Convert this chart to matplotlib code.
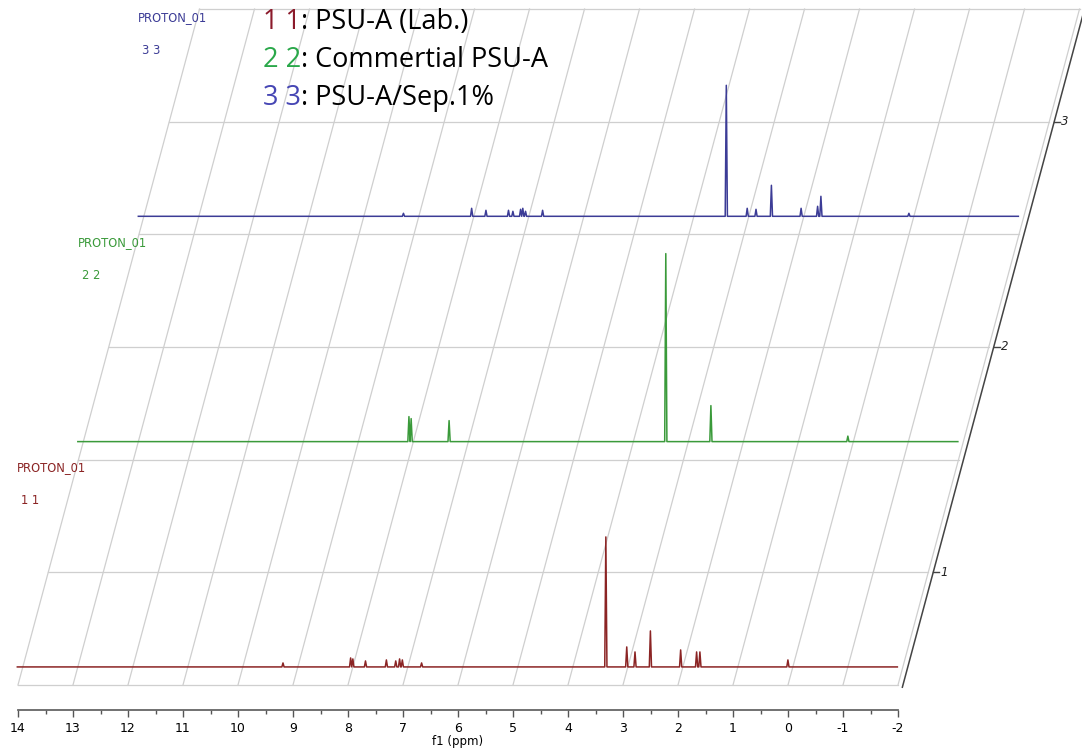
import matplotlib.pyplot as plt
from matplotlib.transforms import Affine2D

plt.rcParams["axes.unicode_minus"] = False

# peak lists (ppm, height in px of the original)
red_ppm = [9.27, 8.04, 8.00, 7.77, 7.39, 7.22, 7.15, 7.10, 6.75,
           3.40, 3.02, 2.87, 2.59, 2.04, 1.75, 1.69, 0.09]
red_h = [4, 9, 8, 6, 7, 6, 8, 7, 4,
         130, 20, 15, 36, 17, 15, 15, 7]

green_ppm = [8.08, 8.04, 7.35, 3.41, 2.59, 0.10]
green_h = [25, 23, 21, 188, 36, 5.5]

blue_ppm = [9.28, 8.04, 7.78, 7.37, 7.29, 7.15, 7.11, 7.06, 6.75,
            3.41, 3.03, 2.87, 2.59, 2.05, 1.75, 1.69, 0.09]
blue_h = [3, 8, 6, 6, 5, 7, 8, 5, 6,
          131, 8, 7, 31, 8, 10, 20, 3]

spectra = [("1 1", red_ppm, red_h, "#8b2424"),
           ("2 2", green_ppm, green_h, "#3a9a3a"),
           ("3 3", blue_ppm, blue_h, "#3c3c96")]
legend_names = ["PSU-A (Lab.)", "Commertial PSU-A", "PSU-A/Sep.1%"]
legend_colors = ["#8b1a2b", "#2aa84a", "#4646b4"]

x_ticks = list(range(14, -3, -1))
z_ticks = [1, 2, 3]

W, H = 1082, 753
fig = plt.figure(figsize=(W / 100, H / 100), dpi=100)

# main (oblique) axes: x = ppm, y = stack level
ax = fig.add_axes([0, 0, 1, 1])
ax.set_xlim(14.327, -5.345)
ax.set_ylim(0.198, 3.540)
ax.axis("off")

shear = 1.1  # ppm shift per stack level
tr = Affine2D([[1, -shear, 0.5 * shear], [0, 1, 0], [0, 0, 1]]) + ax.transData
px = 1 / 225.3  # one pixel in level units

grid_c = "#cfcfcf"
levels = [0.5 + 0.5 * i for i in range(7)]
for z in levels:
    ax.plot([14, -2], [z, z], color=grid_c, lw=0.9, transform=tr)
for p in x_ticks:
    ax.plot([p, p], [0.5, 3.5], color=grid_c, lw=0.9, transform=tr)

# depth axis on the right
ax.plot([-2.09, -2.09], [0.49, 3.5], color="#444444", lw=1.1, transform=tr)
for z in z_ticks:
    ax.plot([-2.09, -2.2], [z, z], color="#444444", lw=1, transform=tr)
    ax.text(-2.22, z, str(z), transform=tr, fontsize=8.5, style="italic",
            ha="left", va="center", color="#222222")

# spectra: baseline sits on the oblique plane, peaks stay vertical
for i, (tag, ppm, h, col) in enumerate(spectra):
    z0 = i + 1 - 0.42
    st = Affine2D().translate(-shear * (z0 - 0.5), 0) + ax.transData
    xs, ys = [14.1], [z0]
    w = 0.02
    for p, v in sorted(zip(ppm, h), reverse=True):
        xs += [p + w, p, p - w]
        ys += [z0, z0 + v * px, z0]
    xs.append(-1.9)
    ys.append(z0)
    ax.plot(xs, ys, color=col, lw=1.1, transform=st)
    ax.text(14.1, z0 + 199 * px, "PROTON_01", transform=st, color=col,
            fontsize=8.3, ha="left", va="center")
    ax.text(14.03, z0 + 166 * px, tag, transform=st, color=col,
            fontsize=8.3, ha="left", va="center")

# legend text
for i, (tag, name, col) in enumerate(zip([s[0] for s in spectra], legend_names, legend_colors)):
    y = 1 - (22 + 38 * i) / H
    t = fig.text(263 / W, y, tag, color=col, fontsize=19.5, family="Open Sans",
                 ha="left", va="center")
    ax.annotate(": " + name, xy=(1, 0), xycoords=t, fontsize=19.5,
                family="Open Sans", color="black", ha="left", va="bottom")

# flat ppm axis at the bottom
ax2 = fig.add_axes([18 / W, (H - 710) / H, 880 / W, 0.001])
ax2.set_xlim(14, -2)
ax2.set_xticks(x_ticks)
ax2.set_xticks([p - 0.5 for p in x_ticks[:-1]], minor=True)
ax2.set_yticks([])
for s in ["left", "right", "top"]:
    ax2.spines[s].set_visible(False)
ax2.spines["bottom"].set_color("#666666")
ax2.spines["bottom"].set_linewidth(1.3)
ax2.patch.set_visible(False)
ax2.tick_params(axis="x", which="major", length=5, width=1, color="#555555",
                labelsize=9, pad=4)
ax2.tick_params(axis="x", which="minor", length=3, width=1, color="#555555")
ax2.set_xlabel("f1 (ppm)", fontsize=8.5, labelpad=0)

fig.savefig("out.png", dpi=100)
